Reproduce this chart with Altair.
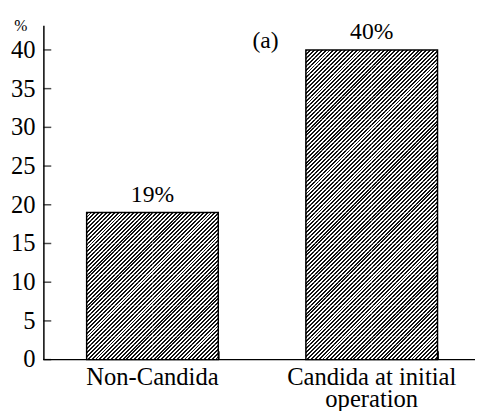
import altair as alt
import pandas as pd

# ---- data ----
categories = ["Non-Candida", "Candida at initial\noperation"]
values = [19, 40]
value_labels = ["19%", "40%"]
y_ticks = [0, 5, 10, 15, 20, 25, 30, 35, 40]
panel_label = "(a)"
y_title = "%"

# ---- layout / style ----
FONT = "Liberation Serif"
PPU = 7.875                  # pixels per y unit
Y_MAX = 43.2
H = Y_MAX * PPU
W = 439
Q = PPU / 2                  # hatch period measured along (x+y)
TILE_W = 17 * Q              # hatch tile width (two tiles per bar)
BW = 2 * TILE_W              # bar width
STEP = 223.0
P_IN = 1 - BW / STEP
P_OUT = 44.0 / STEP
X_RANGE = STEP * (len(categories) - P_IN + 2 * P_OUT)

df = pd.DataFrame({"cat": categories, "v": values, "lab": value_labels})
tick_df = pd.DataFrame({"v": y_ticks, "t": [str(t) for t in y_ticks]})

# tiles that fill each bar with the hatch (one unit tall, half a bar wide)
tile_rows = []
for cat, v in zip(categories, values):
    for col in ("a", "b"):
        for k in range(int(v)):
            tile_rows.append({"cat": cat, "col": col, "v": k, "v2": k + 1})
tiles = pd.DataFrame(tile_rows)


def hatch(w, h, q, frac=0.5, ink="#111111", paper="#ffffff"):
    """'/' hatching at 45 degrees for a w x h box (bbox-unit gradient)."""
    s = (w + h) / (w * w + h * h)
    n = int(round((w + h) / q))
    stops = []
    for k in range(n):
        a, b, c = k / n, (k + frac) / n, (k + 1) / n
        stops += [
            alt.GradientStop(offset=a, color=paper),
            alt.GradientStop(offset=a, color=ink),
            alt.GradientStop(offset=b, color=ink),
            alt.GradientStop(offset=b, color=paper),
        ]
    stops.append(alt.GradientStop(offset=1, color=paper))
    return alt.LinearGradient(gradient="linear", stops=stops,
                              x1=0, y1=0, x2=s * w, y2=s * h)


x_scale = alt.Scale(range=[0, X_RANGE], paddingInner=P_IN, paddingOuter=P_OUT)
y_scale = alt.Scale(domain=[0, Y_MAX], nice=False, zero=True)

# axes draw only lines/ticks; all their texts are text marks below
x_axis = alt.Axis(
    title=None, domain=False, offset=-9, tickBand="extent", tickSize=9,
    tickColor="black", tickWidth=1.5, labels=False,
)
y_axis = alt.Axis(
    values=y_ticks, grid=False, ticks=False, tickSize=0, labels=False,
    domainColor="black", domainWidth=1.5, title=None,
)

X = alt.X("cat:N", sort=categories, scale=x_scale, axis=x_axis)


def Y(field="v"):
    return alt.Y(f"{field}:Q", scale=y_scale, axis=y_axis)


outline = alt.Chart(df).mark_bar(
    fillOpacity=0, stroke="black", strokeWidth=1.5
).encode(x=X, y=Y())

hatch_layer = alt.Chart(tiles).mark_bar(
    fill=hatch(TILE_W, PPU, Q), strokeWidth=0
).encode(
    x=X,
    xOffset=alt.XOffset("col:N", scale=alt.Scale(paddingInner=0, paddingOuter=0)),
    y=Y(),
    y2="v2:Q",
)

bar_labels = alt.Chart(df).mark_text(
    font=FONT, fontSize=24, color="black", baseline="bottom", dy=-6
).encode(x=X, y=Y(), text="lab:N")

cat_labels = alt.Chart(df).mark_text(
    font=FONT, fontSize=25, color="black", baseline="alphabetic",
    lineBreak="\n", lineHeight=22,
).encode(x=X, y=alt.value(H + 26), text="cat:N")

ticks = alt.Chart(tick_df).mark_tick(
    orient="horizontal", size=8, thickness=1.5, color="black"
).encode(y=Y(), x=alt.value(4))

tick_labels = alt.Chart(tick_df).mark_text(
    font=FONT, fontSize=25, color="black", align="right", baseline="middle"
).encode(y=Y(), x=alt.value(-8), text="t:N")

baseline = alt.Chart(pd.DataFrame({"v": [0]})).mark_rule(
    color="black", strokeWidth=1.5
).encode(y=Y())

one = alt.Data(values=[{}])
panel = alt.Chart(one).mark_text(
    text=panel_label, font=FONT, fontSize=24, color="black"
).encode(x=alt.value(226), y=alt.value(16))

y_title_mark = alt.Chart(one).mark_text(
    text=y_title, font=FONT, fontSize=16, color="black"
).encode(x=alt.value(-23), y=alt.value(1))

chart = (
    alt.layer(hatch_layer, outline, bar_labels, cat_labels, ticks,
              tick_labels, baseline, panel, y_title_mark)
    .properties(
        width=W, height=H,
        autosize=alt.AutoSizeParams(type="none"),
        padding={"left": 36, "top": 14, "right": 0, "bottom": 49},
    )
    .configure(font=FONT, background="white")
    .configure_view(stroke=None)
)

chart.save("out.html", embed_options={"renderer": "svg", "actions": False})
